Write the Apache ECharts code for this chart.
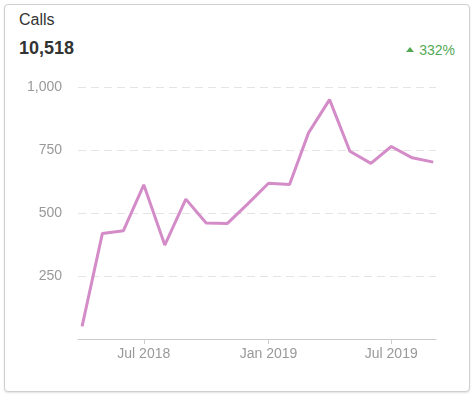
<!DOCTYPE html>
<html lang="en">
<head>
    <meta charset="UTF-8">
    <title>Calls</title>
    <script src="https://cdn.jsdelivr.net/npm/echarts@6/dist/echarts.min.js"></script>
    <style>
        html, body { margin: 0; padding: 0; background: #fff; font-family: "Liberation Sans", Arial, sans-serif; }
        .card {
            position: absolute; left: 4px; top: 4px; width: 464px; height: 386px;
            border: 1px solid #cfcfcf; border-radius: 4px;
            box-shadow: 0 1px 2px rgba(0, 0, 0, 0.12);
            background: #fff;
        }
        .card-title { position: absolute; left: 14px; top: 6px; font-size: 16px; color: #333; }
        .card-total { position: absolute; left: 14px; top: 33px; font-size: 18px; font-weight: bold; color: #333; }
        .card-change { position: absolute; right: 14px; top: 37px; font-size: 14px; color: #55a955; }
        /* small up triangle */
        .card-change .arrow {
            display: inline-block; width: 0; height: 0; margin-right: 5px;
            border-left: 4px solid transparent; border-right: 4px solid transparent;
            border-bottom: 5px solid #55a955; position: relative; top: -3px;
        }
        #chart_main { position: absolute; left: 0; top: 0; width: 475px; height: 397px; }
    </style>
</head>
<body>
<div class="card">
    <div class="card-title">Calls</div>
    <div class="card-total">10,518</div>
    <div class="card-change"><span class="arrow"></span>332%</div>
</div>
<div id="chart_main"></div>
<script>
  // monthly call counts, Apr 2018 - Sep 2019
  var months = ['2018-04-01', '2018-05-01', '2018-06-01', '2018-07-01', '2018-08-01', '2018-09-01',
    '2018-10-01', '2018-11-01', '2018-12-01', '2019-01-01', '2019-02-01', '2019-03-01',
    '2019-04-01', '2019-05-01', '2019-06-01', '2019-07-01', '2019-08-01', '2019-09-01'];
  var calls = [50, 419, 430, 612, 373, 555, 460, 458, 535, 618, 613, 818, 950, 745, 697, 764, 719, 702];
  var xTicks = ['2018-07-01', '2019-01-01', '2019-07-01'];
  var yTicks = [0, 250, 500, 750, 1000];
  var monthNames = ['Jan', 'Feb', 'Mar', 'Apr', 'May', 'Jun', 'Jul', 'Aug', 'Sep', 'Oct', 'Nov', 'Dec'];

  function ts(d) { return Date.parse(d + 'T00:00:00Z'); }

  var myChart = echarts.init(document.getElementById('chart_main'), null, {renderer: 'canvas'});
  var option = {
    animation: false,
    grid: {left: 78, right: 39, top: 87, bottom: 58},
    // plain value axis holding timestamps, so the three ticks can be placed exactly
    xAxis: {
      type: 'value',
      min: ts('2018-03-26'),
      max: ts('2019-09-05'),
      splitLine: {show: false},
      axisLine: {lineStyle: {color: '#cccccc'}},
      axisTick: {
        show: true,
        length: 5,
        lineStyle: {color: '#cccccc'},
        customValues: xTicks.map(ts)
      },
      axisLabel: {
        color: '#999999',
        fontSize: 14,
        fontFamily: 'Liberation Sans',
        customValues: xTicks.map(ts),
        formatter: function(v) {
          var d = new Date(v);
          return monthNames[d.getUTCMonth()] + ' ' + d.getUTCFullYear();
        }
      }
    },
    yAxis: {
      type: 'value',
      min: yTicks[0],
      max: yTicks[yTicks.length - 1],
      interval: 250,
      axisLine: {show: false},
      axisTick: {show: false},
      splitLine: {lineStyle: {color: '#e4e4e4', type: [8, 5]}},
      axisLabel: {
        color: '#999999',
        fontSize: 14,
        fontFamily: 'Liberation Sans',
        margin: 16,
        formatter: function(v) {
          if (v === 0) return '';
          return v.toLocaleString('en-US');
        }
      }
    },
    series: [{
      type: 'line',
      showSymbol: false,
      data: months.map(function(m, i) { return [ts(m), calls[i]]; }),
      lineStyle: {color: '#d48cc8', width: 3},
      itemStyle: {color: '#d48cc8'}
    }]
  };
  myChart.setOption(option);
</script>
</body>
</html>
